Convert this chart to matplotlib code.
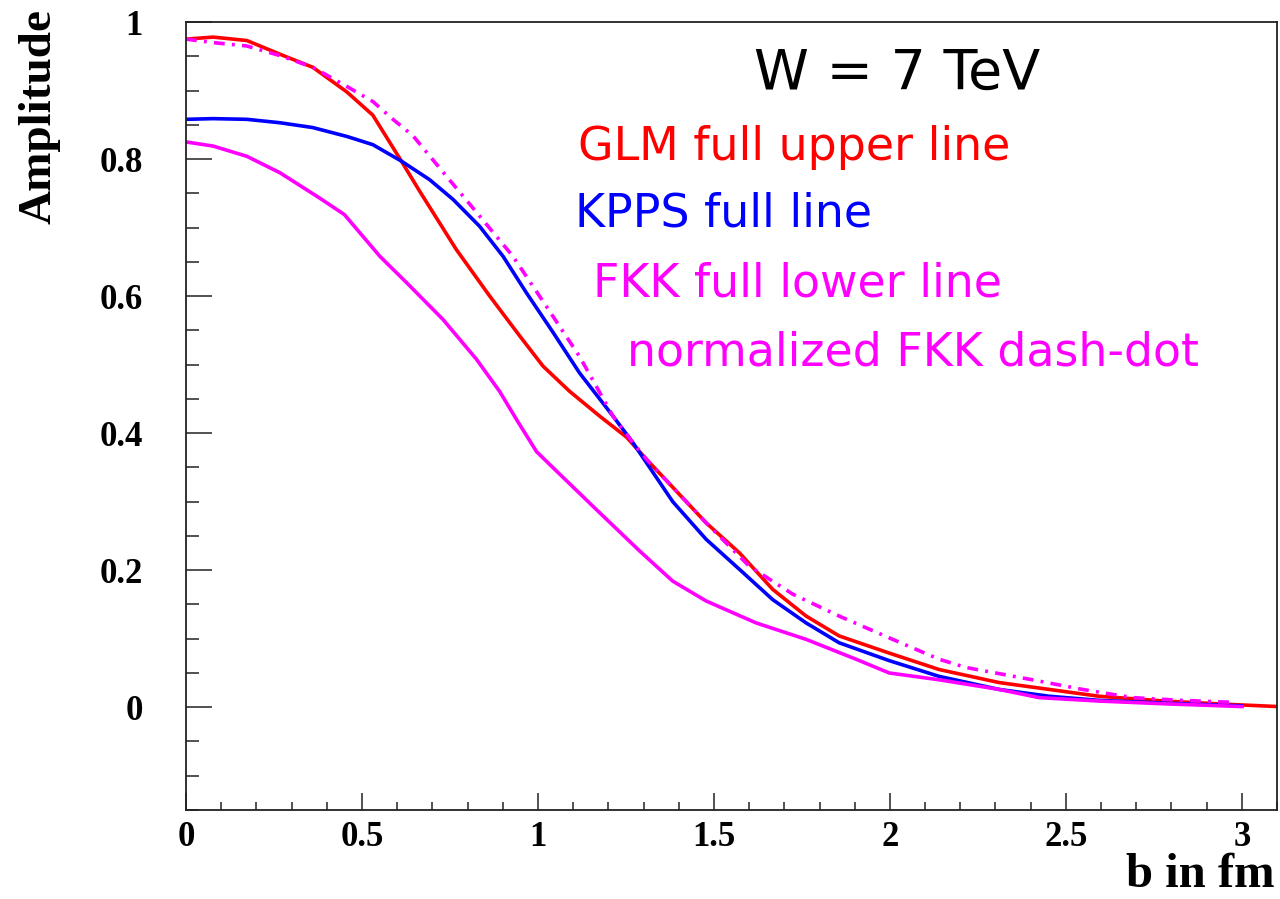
import matplotlib
matplotlib.use('Agg')
import matplotlib.pyplot as plt
from matplotlib.ticker import MultipleLocator

# values (b in fm, amplitude)
glm_b = [0.0, 0.077, 0.173, 0.267, 0.36, 0.457, 0.531, 0.612, 0.664, 0.768, 0.863,
         0.948, 1.014, 1.09, 1.175, 1.252, 1.308, 1.478, 1.573, 1.667, 1.762, 1.856,
         1.998, 2.14, 2.31, 2.452, 2.594, 2.78, 2.97, 3.1]
glm_a = [0.975, 0.978, 0.973, 0.953, 0.934, 0.898, 0.864, 0.797, 0.753, 0.668, 0.600,
         0.542, 0.498, 0.461, 0.425, 0.394, 0.362, 0.269, 0.225, 0.172, 0.133, 0.104,
         0.079, 0.055, 0.036, 0.026, 0.016, 0.009, 0.004, 0.001]

kpps_b = [0.0, 0.077, 0.173, 0.267, 0.36, 0.457, 0.531, 0.612, 0.692, 0.759, 0.834,
          0.901, 0.967, 1.043, 1.118, 1.213, 1.27, 1.383, 1.478, 1.573, 1.667, 1.762,
          1.856, 1.998, 2.14, 2.31, 2.452, 2.594, 2.78, 3.0]
kpps_a = [0.858, 0.859, 0.858, 0.853, 0.846, 0.833, 0.821, 0.797, 0.770, 0.741, 0.702,
          0.658, 0.605, 0.547, 0.488, 0.425, 0.386, 0.300, 0.245, 0.201, 0.157, 0.123,
          0.094, 0.068, 0.045, 0.026, 0.016, 0.010, 0.006, 0.002]

fkk_b = [0.0, 0.077, 0.173, 0.267, 0.38, 0.45, 0.551, 0.626, 0.73, 0.825, 0.891,
         0.939, 0.996, 1.042, 1.175, 1.289, 1.383, 1.478, 1.62, 1.762, 1.904, 1.998,
         2.14, 2.31, 2.424, 2.594, 2.78, 3.0]
fkk_a = [0.825, 0.819, 0.804, 0.780, 0.743, 0.719, 0.658, 0.620, 0.566, 0.508, 0.461,
         0.420, 0.373, 0.350, 0.284, 0.228, 0.184, 0.155, 0.123, 0.099, 0.070, 0.050,
         0.040, 0.026, 0.014, 0.009, 0.005, 0.001]

norm_b = [0.0, 0.077, 0.173, 0.267, 0.36, 0.457, 0.531, 0.588, 0.645, 0.74, 0.834,
          0.929, 1.024, 1.118, 1.213, 1.27, 1.308, 1.478, 1.6, 1.724, 1.856, 2.008,
          2.14, 2.216, 2.405, 2.547, 2.689, 2.83, 2.98]
norm_a = [0.975, 0.970, 0.965, 0.951, 0.934, 0.906, 0.884, 0.858, 0.834, 0.775, 0.717,
          0.658, 0.585, 0.512, 0.425, 0.386, 0.362, 0.269, 0.206, 0.165, 0.133, 0.099,
          0.070, 0.058, 0.040, 0.026, 0.014, 0.010, 0.007]

x_ticks = [0, 0.5, 1, 1.5, 2, 2.5, 3]
x_labels = ['0', '0.5', '1', '1.5', '2', '2.5', '3']
y_ticks = [0, 0.2, 0.4, 0.6, 0.8, 1.0]
y_labels = ['0', '0.2', '0.4', '0.6', '0.8', '1']

notes = ['GLM full upper line', 'KPPS full line', 'FKK full lower line',
         'normalized FKK dash-dot']
note_colors = ['#ff0000', '#0000ff', '#ff00ff', '#ff00ff']

fig = plt.figure(figsize=(12.8, 8.99), dpi=100)
ax = fig.add_axes([0.1453, 0.099, 0.8524, 0.8765])

lw = 2.6
ax.plot(glm_b, glm_a, color='#ff0000', lw=lw)
ax.plot(kpps_b, kpps_a, color='#0000ff', lw=lw)
ax.plot(fkk_b, fkk_a, color='#ff00ff', lw=lw)
ax.plot(norm_b, norm_a, color='#ff00ff', lw=lw, dashes=(3.0, 2, 0.8, 2))

ax.set_xlim(0, 3.1)
ax.set_ylim(-0.15, 1.0)

serif = 'Liberation Serif'
ax.set_xticks(x_ticks)
ax.set_xticklabels(x_labels, fontfamily=serif, fontweight='bold', fontsize=25)
ax.set_yticks(y_ticks)
ax.set_yticklabels(y_labels, fontfamily=serif, fontweight='bold', fontsize=25)
ax.xaxis.set_minor_locator(MultipleLocator(0.1))
ax.yaxis.set_minor_locator(MultipleLocator(0.05))
ax.tick_params(axis='x', which='major', direction='in', length=12, width=1.2,
               color='#333333', pad=8)
ax.tick_params(axis='x', which='minor', direction='in', length=6, width=1.2,
               color='#333333')
ax.tick_params(axis='y', which='major', direction='in', length=18.5, width=1.2,
               color='#333333', pad=31)
ax.tick_params(axis='y', which='minor', direction='in', length=9.5, width=1.2,
               color='#333333')
for s in ax.spines.values():
    s.set_linewidth(1.3)
    s.set_color('#222222')

fig.text(0.031, 1 - 116 / 899, 'Amplitude', rotation=90, ha='center', va='center',
         fontfamily=serif, fontweight='bold', fontsize=34)
fig.text(0.996, 1 - 897 / 899, 'b in fm', ha='right', va='bottom',
         fontfamily=serif, fontweight='bold', fontsize=35)

fig.text(897 / 1280, 1 - 74 / 899, 'W = 7 TeV', ha='center', va='center',
         fontsize=40, color='black', fontfamily='DejaVu Sans')

note_x = [578, 575, 593, 627]
note_y = [147, 214, 284, 353]
for txt, c, px, py in zip(notes, note_colors, note_x, note_y):
    fig.text(px / 1280, 1 - py / 899, txt, color=c, ha='left', va='center',
             fontsize=33, fontfamily='DejaVu Sans')

fig.savefig('out.png', dpi=100)
